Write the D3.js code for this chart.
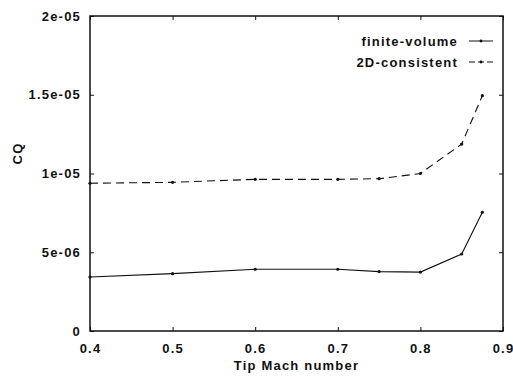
<!DOCTYPE html>
<html>
<head>
<meta charset="utf-8">
<script src="https://cdn.jsdelivr.net/npm/d3@7"></script>
<style>
  body { margin: 0; background: #fff; }
  svg text { font-family: "Liberation Sans", Arial, sans-serif; font-weight: bold; fill: #111; }
</style>
</head>
<body>
<div id="chart"></div>
<script>
// data
const mach = [0.4, 0.5, 0.6, 0.7, 0.75, 0.8, 0.85, 0.875];
const finiteVolume = [3.43e-6, 3.64e-6, 3.92e-6, 3.92e-6, 3.77e-6, 3.74e-6, 4.89e-6, 7.54e-6];
const consistent2D = [9.38e-6, 9.44e-6, 9.63e-6, 9.63e-6, 9.67e-6, 1.0e-5, 1.187e-5, 1.494e-5];
const xTicks = [0.4, 0.5, 0.6, 0.7, 0.8, 0.9];
const yTicks = [0, 5e-6, 1e-5, 1.5e-5, 2e-5];
const yTickLabels = ["0", "5e-06", "1e-05", "1.5e-05", "2e-05"];
const seriesNames = ["finite-volume", "2D-consistent"];

function draw() {
  const width = 513, height = 378;
  const margin = { left: 90, right: 10, top: 16, bottom: 47 };
  const fs = 13, ls = 1.2;

  const svg = d3.select("#chart").append("svg")
    .attr("width", width)
    .attr("height", height);

  const x = d3.scaleLinear().domain([0.4, 0.9]).range([margin.left, width - margin.right]);
  const y = d3.scaleLinear().domain([0, 2e-5]).range([height - margin.bottom, margin.top]);

  const ink = "#111";

  // inward ticks on all four sides
  const g = svg.append("g");
  g.append("g")
    .attr("transform", `translate(0,${y(0)})`)
    .call(d3.axisBottom(x).tickValues(xTicks).tickSizeInner(-4).tickSizeOuter(0).tickFormat(d3.format(".1f")).tickPadding(13));
  g.append("g")
    .attr("transform", `translate(0,${y(2e-5)})`)
    .call(d3.axisTop(x).tickValues(xTicks).tickSizeInner(-4).tickSizeOuter(0).tickFormat(""));
  g.append("g")
    .attr("transform", `translate(${x(0.4)},0)`)
    .call(d3.axisLeft(y).tickValues(yTicks).tickSizeInner(-4).tickSizeOuter(0)
      .tickFormat((d, i) => yTickLabels[i]).tickPadding(9));
  g.append("g")
    .attr("transform", `translate(${x(0.9)},0)`)
    .call(d3.axisRight(y).tickValues(yTicks).tickSizeInner(-4).tickSizeOuter(0).tickFormat(""));

  g.selectAll(".domain").remove();
  g.selectAll(".tick line").attr("stroke", ink).attr("stroke-width", 1);
  g.selectAll(".tick text")
    .attr("font-size", fs)
    .attr("letter-spacing", ls)
    .attr("fill", ink)
    .style("font-weight", "bold");

  // frame
  svg.append("rect")
    .attr("x", x(0.4)).attr("y", y(2e-5))
    .attr("width", x(0.9) - x(0.4)).attr("height", y(0) - y(2e-5))
    .attr("fill", "none").attr("stroke", ink).attr("stroke-width", 1.5);

  const line = d3.line().x(d => x(d[0])).y(d => y(d[1]));
  const series = [
    { name: seriesNames[0], values: d3.zip(mach, finiteVolume), dash: null },
    { name: seriesNames[1], values: d3.zip(mach, consistent2D), dash: "8,5" }
  ];

  series.forEach(s => {
    svg.append("path")
      .datum(s.values)
      .attr("d", line)
      .attr("fill", "none")
      .attr("stroke", ink)
      .attr("stroke-width", 1.1)
      .attr("stroke-dasharray", s.dash);
    svg.append("g").selectAll("circle")
      .data(s.values)
      .join("circle")
      .attr("cx", d => x(d[0]))
      .attr("cy", d => y(d[1]))
      .attr("r", 1.6)
      .attr("fill", ink);
  });

  // legend
  const legend = svg.append("g");
  series.forEach((s, i) => {
    const ly = 41 + i * 21;
    legend.append("text")
      .attr("x", 458).attr("y", ly)
      .attr("dy", "0.35em")
      .attr("text-anchor", "end")
      .attr("font-size", fs)
      .attr("letter-spacing", ls)
      .text(s.name);
    legend.append("line")
      .attr("x1", 469).attr("x2", 493)
      .attr("y1", ly).attr("y2", ly)
      .attr("stroke", ink).attr("stroke-width", 1)
      .attr("stroke-dasharray", s.dash ? "6,3" : null);
    legend.append("circle")
      .attr("cx", 481).attr("cy", ly).attr("r", 1.4).attr("fill", ink);
  });

  // axis titles
  svg.append("text")
    .attr("x", (x(0.4) + x(0.9)) / 2)
    .attr("y", 370)
    .attr("text-anchor", "middle")
    .attr("font-size", fs)
    .attr("letter-spacing", ls)
    .text("Tip Mach number");

  svg.append("text")
    .attr("transform", `translate(22,${(y(0) + y(2e-5)) / 2 - 20}) rotate(-90)`)
    .attr("text-anchor", "middle")
    .attr("font-size", fs)
    .attr("letter-spacing", ls)
    .text("CQ");
}
draw();
</script>
</body>
</html>
